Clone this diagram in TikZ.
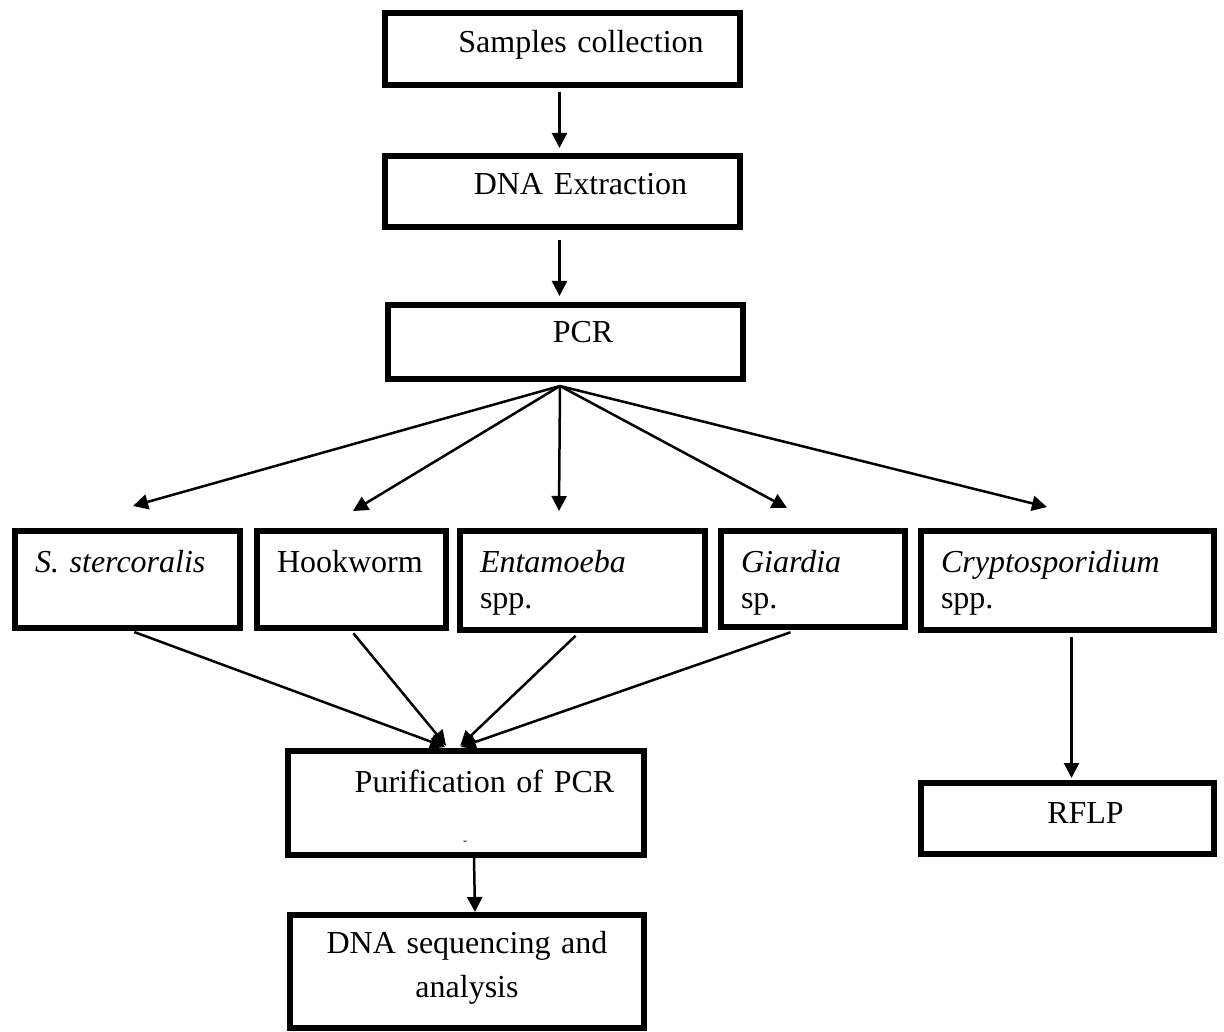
\documentclass[tikz,border=0pt]{standalone}
\usepackage{fontspec}
\setmainfont{Liberation Serif}
\usetikzlibrary{arrows.meta}

\tikzstyle{flowbox}=[draw,
                     rectangle,
                     line width=6pt,
                     inner ysep=0pt,
                     inner xsep=20pt,
                     anchor=north west,
                     align=left]
\tikzstyle{midbox}=[flowbox, inner xsep=0pt, align=center]
\tikzstyle{arr}=[line width=2.5pt, -{Triangle[length=15pt,width=15pt]}]

\begin{document}
\begin{tikzpicture}[x=1pt, y=-1pt, font=\fontsize{32}{36}\selectfont]
    \useasboundingbox (0,0) rectangle (1224,1032);

    \node [midbox, text width=355pt, text height=40pt, text depth=32pt] (samp) at (382,10) {\hspace*{37pt}Samples collection};
    \node [midbox, text width=355pt, text height=39pt, text depth=32pt] (dna) at (382,153) {\hspace*{36pt}DNA Extraction};
    \node [midbox, text width=355pt, text height=38pt, text depth=36pt] (pcr) at (385,302) {\hspace*{35pt}PCR};

    \node [flowbox, text width=185pt, text height=41pt, text depth=56pt] (sst) at (12,528) {\textit{S. stercoralis}};
    \node [flowbox, text width=149pt, text height=41pt, text depth=56pt] (hook) at (254,528) {Hookworm};
    \node [flowbox, text width=205pt, text height=41pt, text depth=58pt] (ent) at (457,528) {\textit{Entamoeba}\\ spp.};
    \node [flowbox, text width=144pt, text height=41pt, text depth=55pt] (gia) at (718,528) {\textit{Giardia}\\ sp.};
    \node [flowbox, text width=253pt, text height=41pt, text depth=58pt] (cry) at (918,528) {\textit{Cryptosporidium}\\ spp.};

    \node [midbox, text width=356pt, text height=41pt, text depth=63pt] (pur) at (285,748) {\hspace*{37pt}Purification of PCR};
    \node (dash) at (465,843) {\fontsize{12}{12}\selectfont -};
    \node [midbox, text width=354pt, text height=38pt, text depth=75pt] (seq) at (287,912) {DNA sequencing and\\[8pt] analysis};
    \node [midbox, text width=293pt, text height=40pt, text depth=31pt] (rflp) at (918,780) {\hspace*{36pt}RFLP};

    \coordinate (fan) at (560,386);
    \coordinate (tosst) at (133,506);
    \coordinate (tohook) at (353,511);
    \coordinate (toent) at (559,511);
    \coordinate (togia) at (787,508);
    \coordinate (tocry) at (1047,507);

    \draw [arr, shorten <=4pt, shorten >=5pt] ([xshift=-3pt]samp.south) -- ([xshift=-3pt]dna.north);
    \draw [arr, shorten <=10pt, shorten >=6pt] ([xshift=-3pt]dna.south) -- ([xshift=-6pt]pcr.north);

    \draw [arr] (fan) -- (tosst);
    \draw [arr] (fan) -- (tohook);
    \draw [arr] (fan) -- (toent);
    \draw [arr] (fan) -- (togia);
    \draw [arr] (fan) -- (tocry);

    \draw [arr, shorten <=3pt, shorten >=3pt] ([xshift=4pt]sst.south) -- ([xshift=-18pt]pur.north);
    \draw [arr, shorten <=3pt, shorten >=3pt] (hook.south) -- ([xshift=-18pt]pur.north);
    \draw [arr, shorten <=4pt, shorten >=3pt] ([xshift=-4pt]ent.south) -- ([xshift=-8pt]pur.north);
    \draw [arr, shorten <=7pt, shorten >=3pt] ([xshift=-16pt]gia.south) -- ([xshift=-8pt]pur.north);

    \draw [arr] ([xshift=8pt]pur.south) -- ([xshift=8pt]seq.north);
    \draw [arr, shorten <=4pt, shorten >=2pt] ([xshift=4pt]cry.south) -- ([xshift=4pt]rflp.north);
\end{tikzpicture}
\end{document}
